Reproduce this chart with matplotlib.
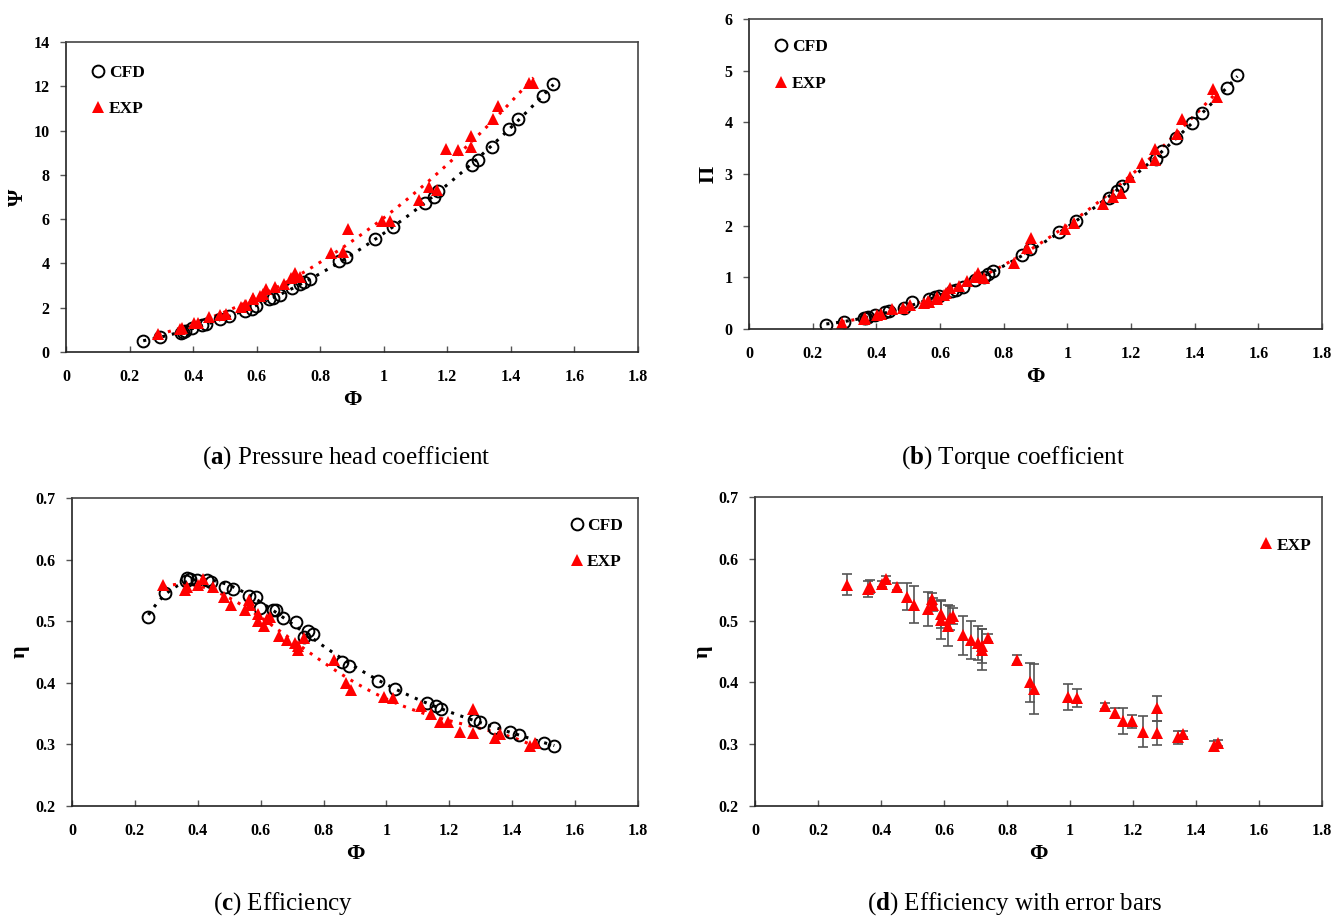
import numpy as np
import matplotlib.pyplot as plt

plt.rcParams["font.family"] = ["Liberation Serif", "DejaVu Serif"]
plt.rcParams["mathtext.fontset"] = "custom"
plt.rcParams["mathtext.rm"] = "Liberation Serif"
plt.rcParams["mathtext.bf"] = "Liberation Serif:bold"

# CFD results (shared flow coefficient)
phi_cfd = [0.243, 0.297, 0.362, 0.367, 0.374, 0.397, 0.428, 0.441, 0.486, 0.512,
           0.564, 0.585, 0.597, 0.639, 0.650, 0.672, 0.711, 0.738, 0.750, 0.767,
           0.859, 0.882, 0.973, 1.028, 1.130, 1.157, 1.172, 1.278, 1.298, 1.342,
           1.393, 1.423, 1.500, 1.534]
psi_cfd = [0.51, 0.69, 0.87, 0.90, 0.93, 1.07, 1.22, 1.26, 1.48, 1.63,
           1.85, 1.93, 2.08, 2.38, 2.43, 2.57, 2.87, 3.07, 3.15, 3.28,
           4.11, 4.31, 5.09, 5.66, 6.74, 7.02, 7.26, 8.46, 8.67, 9.24,
           10.06, 10.54, 11.58, 12.12]
pi_cfd = [0.08, 0.13, 0.21, 0.22, 0.23, 0.27, 0.32, 0.34, 0.41, 0.52,
          0.58, 0.62, 0.64, 0.74, 0.76, 0.82, 0.95, 1.01, 1.06, 1.13,
          1.43, 1.54, 1.87, 2.10, 2.54, 2.67, 2.77, 3.29, 3.45, 3.69,
          3.99, 4.19, 4.66, 4.92]
eta_cfd = [0.507, 0.545, 0.566, 0.570, 0.568, 0.567, 0.567, 0.564, 0.556, 0.552,
           0.541, 0.540, 0.522, 0.519, 0.519, 0.506, 0.498, 0.475, 0.484, 0.479,
           0.434, 0.428, 0.403, 0.390, 0.368, 0.362, 0.358, 0.339, 0.336, 0.327,
           0.320, 0.315, 0.303, 0.298]

# Experimental results
phi_exp = [0.291, 0.360, 0.365, 0.402, 0.416, 0.450, 0.484, 0.505, 0.550, 0.563,
           0.566, 0.590, 0.590, 0.612, 0.619, 0.630, 0.659, 0.685, 0.709, 0.720,
           0.720, 0.738, 0.833, 0.873, 0.887, 0.993, 1.021, 1.111, 1.143, 1.169,
           1.196, 1.233, 1.275, 1.275, 1.344, 1.360, 1.458, 1.471]
psi_exp = [0.81, 1.05, 1.09, 1.32, 1.33, 1.60, 1.67, 1.70, 2.02, 2.12,
           2.10, 2.42, 2.38, 2.54, 2.60, 2.83, 2.95, 3.07, 3.33, 3.58,
           3.45, 3.37, 4.49, 4.53, 5.54, 5.93, 5.93, 6.86, 7.47, 7.30,
           9.17, 9.12, 9.76, 9.27, 10.51, 11.11, 12.16, 12.16]
pi_exp = [0.11, 0.19, 0.21, 0.27, 0.30, 0.38, 0.41, 0.47, 0.50, 0.55,
          0.53, 0.61, 0.59, 0.66, 0.70, 0.79, 0.83, 0.92, 1.00, 1.08,
          1.04, 0.99, 1.27, 1.57, 1.77, 1.94, 2.05, 2.41, 2.56, 2.64,
          2.95, 3.21, 3.48, 3.28, 3.77, 4.06, 4.64, 4.50]
eta_exp = [0.558, 0.551, 0.555, 0.559, 0.568, 0.555, 0.539, 0.526, 0.519, 0.535,
           0.526, 0.511, 0.501, 0.492, 0.504, 0.507, 0.476, 0.469, 0.464, 0.459,
           0.453, 0.472, 0.437, 0.400, 0.389, 0.377, 0.375, 0.362, 0.350, 0.337,
           0.337, 0.320, 0.358, 0.318, 0.311, 0.317, 0.297, 0.302]
eta_err = [0.017, 0.013, 0.010, 0.005, 0.004, 0.006, 0.022, 0.030, 0.027, 0.010,
           0.010, 0.023, 0.031, 0.033, 0.020, 0.013, 0.032, 0.031, 0.028, 0.027,
           0.033, 0.007, 0.007, 0.032, 0.040, 0.021, 0.015, 0.005, 0.008, 0.021,
           0.011, 0.025, 0.020, 0.020, 0.010, 0.005, 0.008, 0.005]

xticks = [0, 0.2, 0.4, 0.6, 0.8, 1, 1.2, 1.4, 1.6, 1.8]
xticklabels = ["0", "0.2", "0.4", "0.6", "0.8", "1", "1.2", "1.4", "1.6", "1.8"]

fig = plt.figure(figsize=(13.33, 9.18), dpi=100)
ax_a = fig.add_axes([0.0495, 0.6166, 0.4291, 0.3377])
ax_b = fig.add_axes([0.5619, 0.6416, 0.4299, 0.3377])
ax_c = fig.add_axes([0.0540, 0.1220, 0.4246, 0.3355])
ax_d = fig.add_axes([0.5664, 0.1220, 0.4254, 0.3366])

cfd_style = dict(ls="none", marker="o", ms=8.5, mfc="none", mec="black", mew=1.4)
exp_style = dict(ls="none", marker="^", ms=8, mfc="red", mec="red", mew=0)
leg_font = dict(family="Liberation Serif", weight="bold", size=12.5)


def trend(ax, x, y, deg, color):
    c = np.polyfit(x, y, deg)
    xs = np.linspace(min(x), max(x), 200)
    ax.plot(xs, np.polyval(c, xs), ls=(0, (1, 2.2)), lw=2.2, color=color, zorder=1)


def style(ax, ylim, yticks, ylabel):
    ax.set_xlim(0, 1.8)
    ax.set_ylim(*ylim)
    ax.set_xticks(xticks)
    ax.set_xticklabels(xticklabels)
    ax.set_yticks(yticks)
    ax.set_yticklabels([f"{t:g}" for t in yticks])
    ax.tick_params(axis="x", direction="in", length=4, width=1, color="#555555", pad=12,
                   labelsize=11.5)
    ax.tick_params(axis="y", direction="out", length=4, width=1, color="#555555", pad=8,
                   labelsize=11.5)
    for lab in ax.get_xticklabels() + ax.get_yticklabels():
        lab.set_fontweight("bold")
    ax.spines["top"].set_color("#444444")
    ax.spines["right"].set_color("#444444")
    ax.spines["left"].set_color("#222222")
    ax.spines["bottom"].set_color("#222222")
    for s in ax.spines.values():
        s.set_linewidth(1.2)
    ax.set_xlabel("Φ", fontsize=16, fontweight="bold", labelpad=4)
    ax.set_ylabel(ylabel, fontsize=16, fontweight="bold", labelpad=4)


# (a) pressure head coefficient
trend(ax_a, phi_cfd, psi_cfd, 2, "black")
trend(ax_a, phi_exp, psi_exp, 2, "red")
ax_a.plot(phi_cfd, psi_cfd, label="CFD", **cfd_style)
ax_a.plot(phi_exp, psi_exp, label="EXP", **exp_style)
style(ax_a, (0, 14), [0, 2, 4, 6, 8, 10, 12, 14], "Ψ")
ax_a.legend(loc="upper left", bbox_to_anchor=(0.02, 0.975), frameon=False,
            handlelength=0.6, handletextpad=0.3, labelspacing=1.1, prop=leg_font)

# (b) torque coefficient
trend(ax_b, phi_cfd, pi_cfd, 2, "black")
trend(ax_b, phi_exp, pi_exp, 2, "red")
ax_b.plot(phi_cfd, pi_cfd, label="CFD", **cfd_style)
ax_b.plot(phi_exp, pi_exp, label="EXP", **exp_style)
style(ax_b, (0, 6), [0, 1, 2, 3, 4, 5, 6], "Π")
ax_b.legend(loc="upper left", bbox_to_anchor=(0.02, 0.985), frameon=False,
            handlelength=0.6, handletextpad=0.3, labelspacing=1.2, prop=leg_font)

# (c) efficiency
trend(ax_c, phi_cfd, eta_cfd, 5, "black")
trend(ax_c, phi_exp, eta_exp, 4, "red")
ax_c.plot(phi_cfd, eta_cfd, label="CFD", **cfd_style)
ax_c.plot(phi_exp, eta_exp, label="EXP", **exp_style)
style(ax_c, (0.2, 0.7), [0.2, 0.3, 0.4, 0.5, 0.6, 0.7], "η")
ax_c.legend(loc="upper left", bbox_to_anchor=(0.855, 0.985), frameon=False,
            handlelength=0.6, handletextpad=0.3, labelspacing=1.1, prop=leg_font)

# (d) efficiency with error bars
ax_d.errorbar(phi_exp, eta_exp, yerr=eta_err, fmt="none", ecolor="#555555",
              elinewidth=1.2, capsize=3.5, capthick=1.2, zorder=1)
ax_d.plot(phi_exp, eta_exp, label="EXP", **exp_style)
style(ax_d, (0.2, 0.7), [0.2, 0.3, 0.4, 0.5, 0.6, 0.7], "η")
ax_d.legend(loc="upper left", bbox_to_anchor=(0.865, 0.92), frameon=False,
            handlelength=0.6, handletextpad=0.3, labelspacing=1.1, prop=leg_font)

# captions
captions = [(0.260, 0.502, "a", "Pressure head coefficient"),
            (0.760, 0.502, "b", "Torque coefficient"),
            (0.212, 0.016, "c", "Efficiency"),
            (0.761, 0.016, "d", "Efficiency with error bars")]
for x, y, letter, text in captions:
    fig.text(x, y, r"($\mathbf{" + letter + r"}$) " + text, ha="center", va="center",
             fontsize=18)

fig.savefig("out.png", dpi=100)
